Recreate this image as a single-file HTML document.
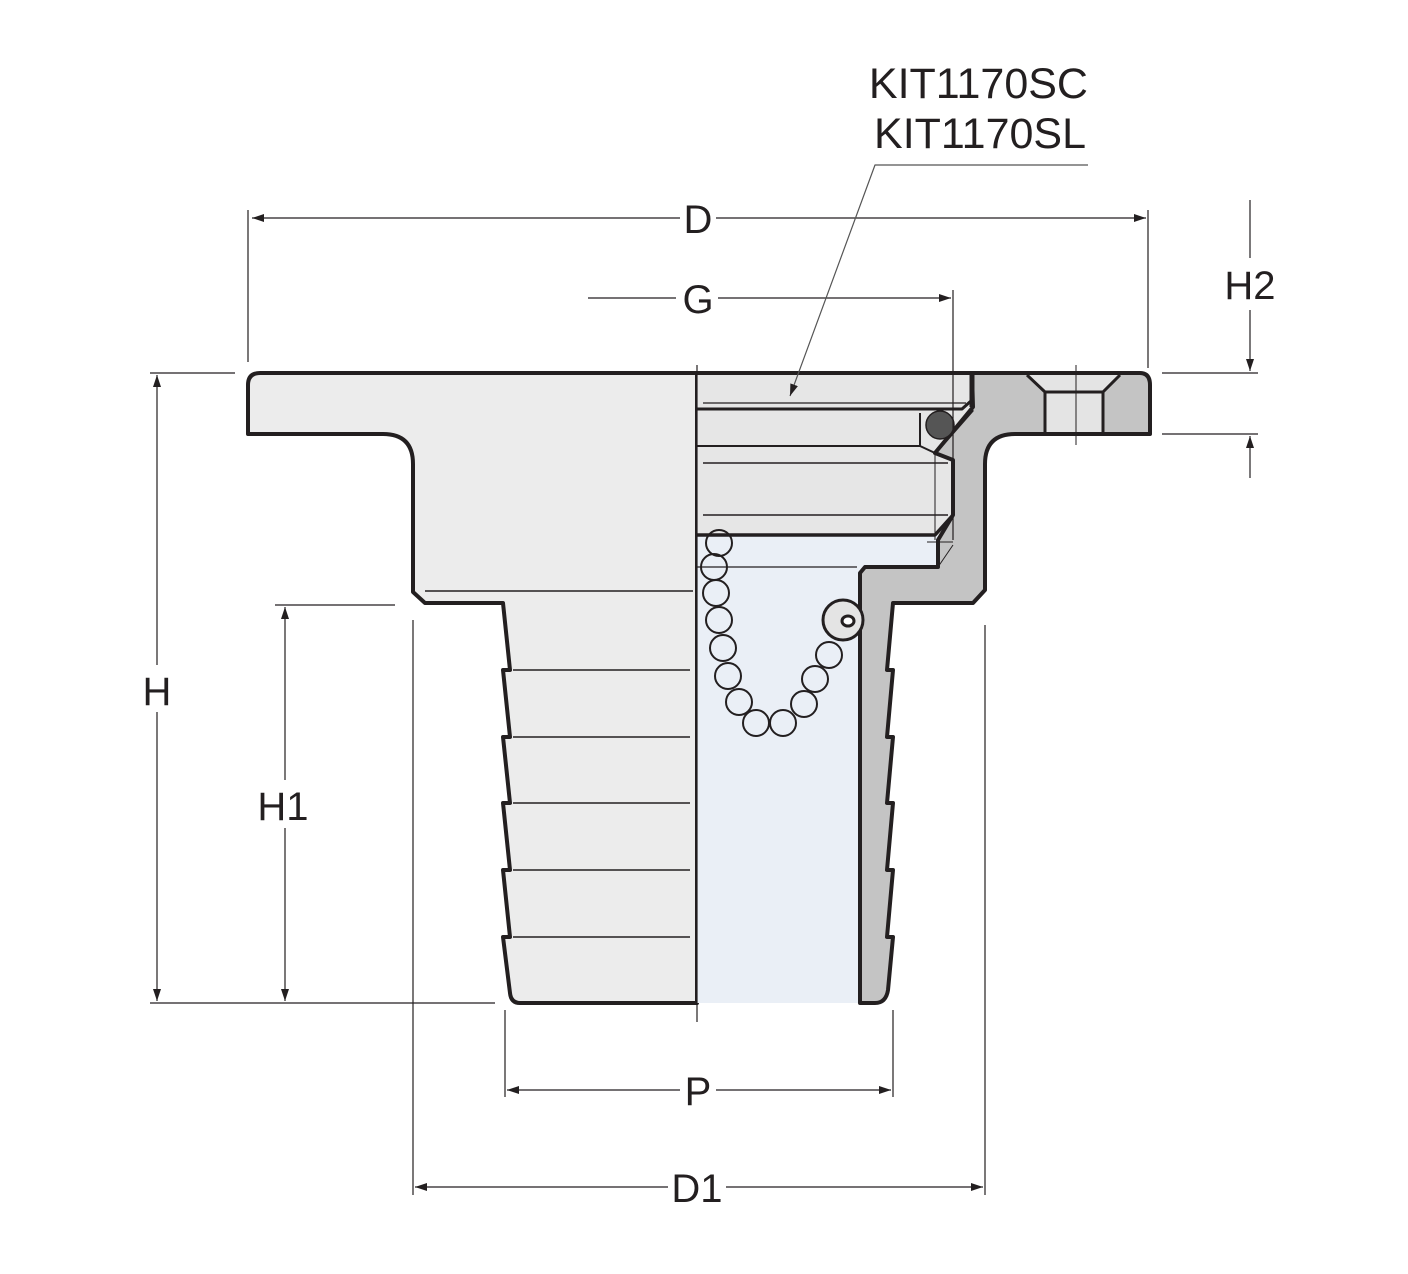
<!DOCTYPE html>
<html><head><meta charset="utf-8"><style>
html,body{margin:0;padding:0;background:#fff;}
svg{display:block;}
text{font-family:"Liberation Sans",sans-serif;fill:#231f20;}
</style></head><body>
<svg width="1408" height="1274" viewBox="0 0 1408 1274" xmlns="http://www.w3.org/2000/svg">
<defs>
<marker id="a" viewBox="0 0 12 8" refX="12" refY="4" markerWidth="12" markerHeight="8" orient="auto-start-reverse" markerUnits="userSpaceOnUse"><path d="M0,0 L12,4 L0,8 z" fill="#231f20"/></marker>
</defs>
<g stroke="#231f20" stroke-linejoin="round">
<path d="M697,373 L260,373 Q248,373 248,385 L248,434 L383,434 Q413,434 413,464 L413,592 L425,603 L503,603 L510,670 L503,670 L510,737 L503,737 L510,803 L503,803 L510,870 L503,870 L510,937 L503,937 L510,993 Q511,1003 520,1003 L697,1003 Z" fill="#ececec" stroke-width="4"/>
<path d="M697,535 L938,535 L938,567 L865,567 L860,573 L860,1003 L697,1003 Z" fill="#eaeff6" stroke="none"/>
<path d="M697,375 L972,375 L972,535 L697,535 Z" fill="#e6e6e6" stroke="none"/>
<path d="M972,373 L1140,373 Q1150,373 1150,385 L1150,434 L1015,434 Q985,434 985,464 L985,590 L973,603 L893,603 L887,670 L893,670 L887,737 L893,737 L887,803 L893,803 L887,870 L893,870 L887,937 L893,937 L888,990 Q886,1003 875,1003 L860,1003 L860,573 L865,567 L938,567 L938,540 L953,515 L953,460 L935,453 L973,407 Z" fill="#c4c4c4" stroke-width="4"/>
<path d="M1027,375 L1045,392 L1045,432 L1103,432 L1103,392 L1120,375 Z" fill="#e4e4e4" stroke="none"/>
<path d="M1027,375 L1045,392 L1045,434 M1120,375 L1103,392 L1103,434 M1045,392 L1103,392" fill="none" stroke-width="3"/>
<path d="M1076,365 L1076,445" stroke-width="1"/>
<path d="M260,373 L1140,373" stroke-width="4" fill="none"/>
<path d="M972,375 L972,407" stroke-width="5"/>
<path d="M697,409 L962,409 L972,400" stroke-width="3" fill="none"/>
<path d="M703,403 L966,403" stroke-width="1.2"/>
<path d="M697,446 L920,446 L935,453" stroke-width="2" fill="none"/>
<path d="M920,413 L920,446" stroke-width="2"/>
<path d="M703,463 L948,463" stroke-width="1.5"/>
<path d="M703,515 L948,515" stroke-width="1.5"/>
<path d="M697,535 L935,535 L953,515" stroke-width="3.5" fill="none"/>
<path d="M935,455 L935,540 M927,542 L953,542" stroke-width="1"/>
<path d="M938,567 L953,545" stroke-width="1"/>
<circle cx="940" cy="425" r="14" fill="#555" stroke-width="1.5"/>
<path d="M938,450 L973,410" stroke-width="2.5"/>
<path d="M425,591 L693,591" stroke-width="1.5"/>
<path d="M513,670 L690,670 M513,737 L690,737 M513,803 L690,803 M513,870 L690,870 M513,937 L690,937" stroke-width="1.5"/>
<path d="M697,567 L857,567" stroke-width="1.3"/>
<path d="M697,365 L697,1022" stroke-width="1.2" fill="none"/>
<circle cx="843" cy="620" r="20" fill="#e4e4e4" stroke-width="3"/>
<ellipse cx="848" cy="621" rx="6" ry="5" fill="#fff" stroke-width="3"/>
<g fill="none" stroke-width="2">
<circle cx="719" cy="543" r="13"/><circle cx="714" cy="567" r="13"/><circle cx="716" cy="593" r="13"/><circle cx="719" cy="620" r="13"/><circle cx="723" cy="648" r="13"/><circle cx="728" cy="676" r="13"/><circle cx="739" cy="702" r="13"/><circle cx="756" cy="723" r="13"/><circle cx="783" cy="723" r="13"/><circle cx="804" cy="704" r="13"/><circle cx="815" cy="679" r="13"/><circle cx="829" cy="655" r="13"/>
</g>
<g stroke-width="1.2" fill="none">
<path d="M248,210 L248,362 M1148,210 L1148,368"/>
<path d="M680,218 L252,218" marker-end="url(#a)"/><path d="M716,218 L1146,218" marker-end="url(#a)"/>
<path d="M588,298 L676,298"/><path d="M718,298 L951,298" marker-end="url(#a)"/>
<path d="M953,290 L953,540"/>
<path d="M150,373 L235,373 M150,1003 L495,1003"/>
<path d="M157,665 L157,375" marker-end="url(#a)"/><path d="M157,712 L157,1001" marker-end="url(#a)"/>
<path d="M275,605 L395,605"/>
<path d="M285,780 L285,607" marker-end="url(#a)"/><path d="M285,828 L285,1001" marker-end="url(#a)"/>
<path d="M1162,373 L1258,373 M1162,434 L1258,434"/>
<path d="M1250,200 L1250,258"/><path d="M1250,310 L1250,371" marker-end="url(#a)"/><path d="M1250,478 L1250,436" marker-end="url(#a)"/>
<path d="M505,1010 L505,1097 M893,1010 L893,1097"/>
<path d="M680,1090 L507,1090" marker-end="url(#a)"/><path d="M716,1090 L891,1090" marker-end="url(#a)"/>
<path d="M413,620 L413,1195 M985,625 L985,1195"/>
<path d="M668,1187 L415,1187" marker-end="url(#a)"/><path d="M726,1187 L983,1187" marker-end="url(#a)"/>
<path d="M1088,165 L875,165 L790,396" marker-end="url(#a)" stroke="#555"/>
</g>
</g>
<g font-size="40" text-anchor="middle">
<text x="698" y="233">D</text>
<text x="698" y="313">G</text>
<text x="157" y="705">H</text>
<text x="283" y="820">H1</text>
<text x="1250" y="299">H2</text>
<text x="698" y="1105">P</text>
<text x="697" y="1202">D1</text>
<text x="1088" y="98" text-anchor="end" font-size="43">KIT1170SC</text>
<text x="1086" y="148" text-anchor="end" font-size="43">KIT1170SL</text>
</g>
</svg>
</body></html>
